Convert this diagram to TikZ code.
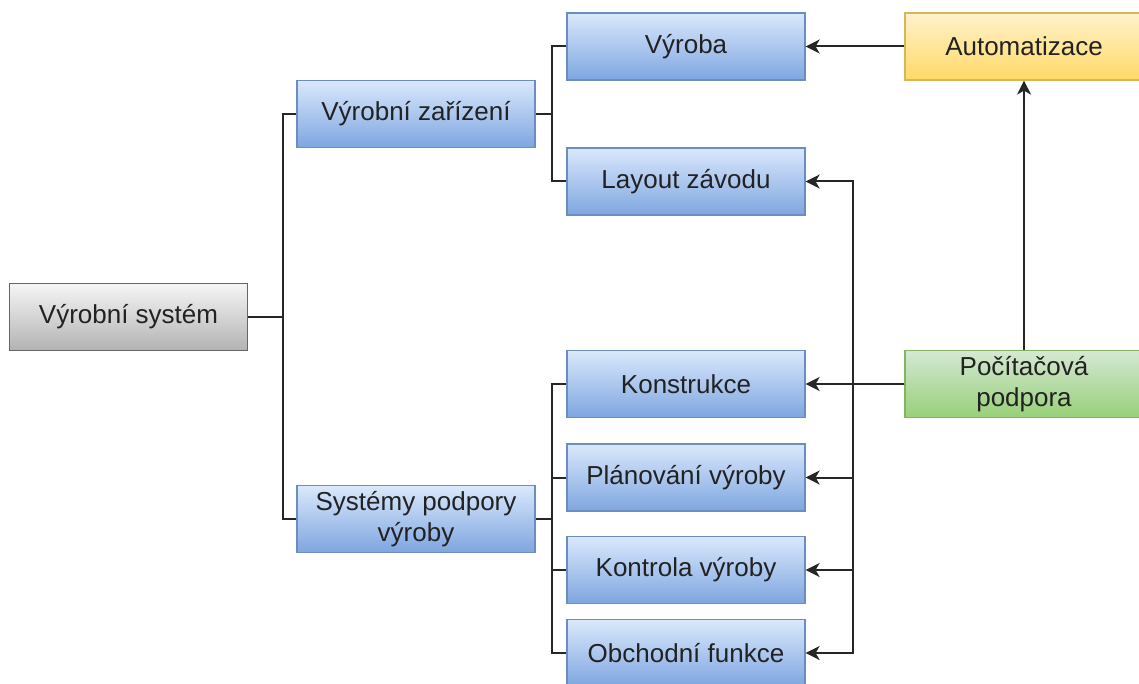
\documentclass[tikz,border=0pt]{standalone}
\usepackage{fontspec}
\setmainfont{Liberation Sans}
\usetikzlibrary{arrows.meta}
\definecolor{blueTop}{HTML}{DAE8FC}
\definecolor{blueBot}{HTML}{7EA6E0}
\definecolor{blueLine}{HTML}{6C8EBF}
\definecolor{grayTop}{HTML}{F5F5F5}
\definecolor{grayBot}{HTML}{B3B3B3}
\definecolor{grayLine}{HTML}{666666}
\definecolor{yelTop}{HTML}{FFF2CC}
\definecolor{yelBot}{HTML}{FFD966}
\definecolor{yelLine}{HTML}{D6B656}
\definecolor{grnTop}{HTML}{D5E8D4}
\definecolor{grnBot}{HTML}{97D077}
\definecolor{grnLine}{HTML}{82B366}
\definecolor{txtDark}{HTML}{222222}

\begin{document}
\begin{tikzpicture}[x=1pt, y=-1pt,
          box/.style={draw, line width=1.2pt, minimum width=238pt, minimum height=67pt,
            inner sep=0pt, align=center, text=txtDark,
            font=\fontsize{26}{31}\selectfont},
          blk/.style={box, draw=blueLine, top color=blueTop, bottom color=blueBot},
          gry/.style={box, draw=grayLine, top color=grayTop, bottom color=grayBot},
          yel/.style={box, draw=yelLine, top color=yelTop, bottom color=yelBot},
          grn/.style={box, draw=grnLine, top color=grnTop, bottom color=grnBot},
          conn/.style={line width=2pt, black!85},
          arr/.style={conn, -{Stealth[length=14pt, width=14pt, inset=4pt]}}]
        \useasboundingbox (0,0) rectangle (1139,684);
        % left side
        \node[gry] (sys) at (128.5,317) {Výrobní systém};
        \node[blk] (zar) at (416,114) {Výrobní zařízení};
        \node[blk] (podp) at (416,519) {Systémy podpory\\výroby};
        % middle column
        \node[blk] (vyr) at (686,46.5) {Výroba};
        \node[blk] (lay) at (686,181.5) {Layout závodu};
        \node[blk] (kon) at (686,384) {Konstrukce};
        \node[blk] (plan) at (686,477.5) {Plánování výroby};
        \node[blk] (kontr) at (686,570) {Kontrola výroby};
        \node[blk] (obch) at (686,653) {Obchodní funkce};
        % right column
        \node[yel] (auto) at (1024,46.5) {Automatizace};
        \node[grn] (pc) at (1024,384) {Počítačová\\podpora};
        % tree
        \draw[conn] (sys.east) -- ++(35,0) |- (zar.west);
        \draw[conn] (sys.east) -- ++(35,0) |- (podp.west);
        \foreach \t in {vyr,lay}
          \draw[conn] (zar.east) -- ++(16,0) |- (\t.west);
        \foreach \t in {kon,plan,kontr,obch}
          \draw[conn] (podp.east) -- ++(16,0) |- (\t.west);
        % arrows
        \draw[arr] (auto.west) -- (vyr.east);
        \draw[arr] (pc.north) -- (auto.south);
        \draw[arr] (pc.west) -- (kon.east);
        \foreach \t in {lay,plan,kontr,obch}
          \draw[arr] (pc.west) -- ++(-51,0) |- (\t.east);
\end{tikzpicture}
\end{document}
